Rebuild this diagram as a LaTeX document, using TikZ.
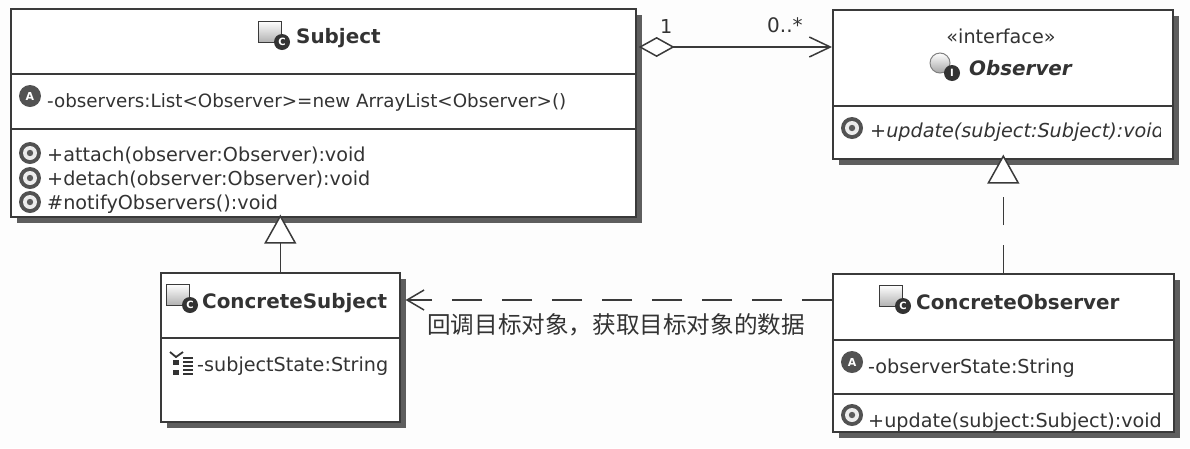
\documentclass[tikz,border=0pt]{standalone}
\usepackage{fontspec}
\setmainfont{DejaVu Sans}
\newfontfamily\cjkfont{Noto Sans CJK SC}
\usetikzlibrary{arrows.meta,shadows}
\definecolor{ink}{HTML}{333333}
\definecolor{rule}{HTML}{3A3A3A}
\definecolor{shade}{HTML}{5E5E5E}
\definecolor{paper}{HTML}{FDFDFD}
\tikzset{
  umlbox/.style={draw=rule,line width=1.6pt,fill=white,anchor=north west,inner sep=0pt,
    general shadow={fill=shade,shadow xshift=6pt,shadow yshift=-6pt}},
  sep/.style={draw=rule,line width=1.5pt},
  txt/.style={text=ink,font=\fontsize{19.2pt}{22pt}\selectfont,anchor=west,inner sep=0pt},
  ttl/.style={text=ink,font=\fontsize{19.9pt}{24pt}\selectfont\bfseries,anchor=west,inner sep=0pt},
  conn/.style={draw=rule,line width=1.5pt},
  classicon/.pic={
    \draw[rule,line width=1pt,top color=white,bottom color=gray!60] (-11,-14) rectangle (12,7);
    \fill[ink] (13,7) circle (8);
    \node[text=white,font=\fontsize{10pt}{10pt}\selectfont\bfseries,inner sep=0pt] at (13,7) {C};
  },
  ifaceicon/.pic={
    \draw[gray,line width=1pt,top color=white,bottom color=gray!70] (-2,-2) circle (10);
    \fill[ink] (10,8) circle (8);
    \node[text=white,font=\fontsize{10pt}{10pt}\selectfont\bfseries,inner sep=0pt] at (10,8) {I};
  },
  methicon/.pic={
    \fill[ink!85] (0,0) circle (11);
    \fill[white!85!gray] (0,0) circle (7);
    \fill[ink!80] (0,0) circle (3.2);
  },
  attricon/.pic={
    \fill[ink!85] (0,0) circle (11);
    \node[text=white,font=\fontsize{11pt}{11pt}\selectfont\bfseries,inner sep=0pt] at (0,0) {A};
  },
  fieldicon/.pic={
    \draw[ink,line width=1.8pt] (-12,-13) -- (-6,-8) -- (1,-13);
    \foreach \yy in {-5,5} {\fill[ink] (-9,\yy) rectangle (-3,\yy+5);}
    \foreach \yy in {-7,-3,1,5,9} {\draw[ink,line width=1.2pt] (1,\yy) -- (11,\yy);}
  }
}
\begin{document}
\begin{tikzpicture}[x=1pt,y=-1pt]
\useasboundingbox[fill=paper] (0,0) rectangle (1190,448);
% boxes
\node[umlbox,minimum width=625pt,minimum height=208pt] (subject) at (10,8) {};
\node[umlbox,minimum width=340pt,minimum height=149pt] (observer) at (832,9) {};
\node[umlbox,minimum width=239pt,minimum height=149pt] (csubject) at (160,272) {};
\node[umlbox,minimum width=341pt,minimum height=158pt] (cobserver) at (832,273) {};
% separators
\draw[sep] (subject.west |- 0,74) -- (subject.east |- 0,74);
\draw[sep] (subject.west |- 0,129) -- (subject.east |- 0,129);
\draw[sep] (observer.west |- 0,106) -- (observer.east |- 0,106);
\draw[sep] (csubject.west |- 0,338) -- (csubject.east |- 0,338);
\draw[sep] (cobserver.west |- 0,340) -- (cobserver.east |- 0,340);
\draw[sep] (cobserver.west |- 0,394) -- (cobserver.east |- 0,394);
% Subject
\pic at (269,35) {classicon};
\node[ttl] (t1) at (296,38) {Subject};
\pic at (30,96) {attricon};
\node[txt,font=\fontsize{18.3pt}{22pt}\selectfont] (a1) at (47,102) {-observers:List<Observer>=new ArrayList<Observer>()};
\pic at (30,153) {methicon};
\node[txt] (m1) at (47,155) {+attach(observer:Observer):void};
\pic at (30,178) {methicon};
\node[txt] (m2) at (47,179) {+detach(observer:Observer):void};
\pic at (30,202) {methicon};
\node[txt] (m3) at (47,204) {\#notifyObservers():void};
% Observer
\node[txt,anchor=center] (st) at (1001,36) {«interface»};
\pic at (942,65) {ifaceicon};
\node[ttl,font=\fontsize{19.9pt}{24pt}\selectfont\bfseries\itshape] (t2) at (969,68) {Observer};
\pic at (852,128) {methicon};
\begin{scope}
\clip (840,110) rectangle (1160.5,156);
\node[txt,font=\fontsize{19.2pt}{22pt}\selectfont\itshape] (m4) at (870,132) {+update(subject:Subject):void};
\end{scope}
% ConcreteSubject
\pic at (177,298) {classicon};
\node[ttl] (t3) at (202,303) {ConcreteSubject};
\pic at (182,365) {fieldicon};
\node[txt] (a2) at (197,366) {-subjectState:String};
% ConcreteObserver
\pic at (890,299) {classicon};
\node[ttl] (t4) at (916,302) {ConcreteObserver};
\pic at (852,362) {attricon};
\node[txt] (a3) at (868,368) {-observerState:String};
\pic at (852,415) {methicon};
\node[txt] (m5) at (868,422) {+update(subject:Subject):void};
% connectors
\coordinate (aggL) at (subject.east |- 0,47);
\coordinate (aggR) at (observer.west |- 0,47);
\coordinate (depR) at (cobserver.west |- 0,300);
\coordinate (depL) at (csubject.east |- 0,300);
\draw[conn,{Diamond[open,fill=white,length=36pt,width=20pt]}-{Straight Barb[length=21pt,width=20pt]}] ([xshift=2pt]aggL) -- (aggR);
\draw[conn,-{Triangle[open,fill=white,length=29pt,width=32pt]}] (csubject.north) -- ([yshift=3pt]csubject.north |- subject.south);
\draw[conn,dash pattern=on 28pt off 20pt,-{Triangle[open,fill=white,length=29pt,width=32pt]}] (cobserver.north) -- ([yshift=5pt]cobserver.north |- observer.south);
\draw[conn,dash pattern=on 30pt off 20pt,-{Straight Barb[length=17pt,width=20pt]}] (depR) -- ([xshift=5pt]depL);
% connector labels
\node[txt] (l1) at (660,26) {1};
\node[txt,font=\fontsize{20pt}{22pt}\selectfont] (l2) at (767,25) {0..*};
\node[txt,font=\fontsize{23.6pt}{26pt}\cjkfont] (l3) at (427,325) {回调目标对象，获取目标对象的数据};
\end{tikzpicture}
\end{document}
